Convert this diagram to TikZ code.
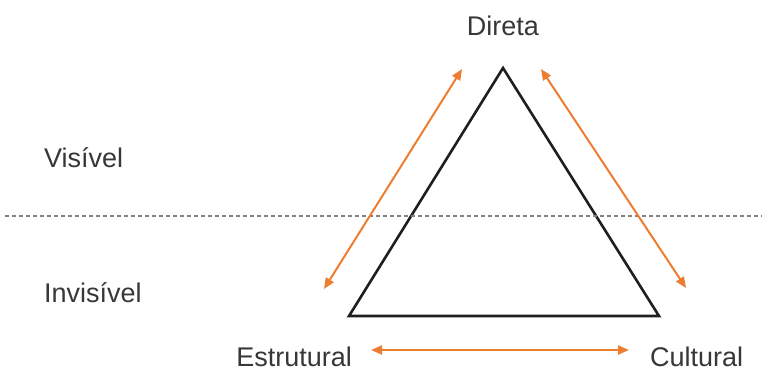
\documentclass[tikz,border=0pt]{standalone}
\usepackage{fontspec}
\setmainfont{Liberation Sans}
\usetikzlibrary{arrows.meta}
\definecolor{orng}{RGB}{237,125,49}
\definecolor{txt}{RGB}{55,55,55}
\tikzset{
  lbl/.style={text=txt,font=\fontsize{27}{31}\selectfont,inner sep=0pt},
  oarrow/.style={draw=orng,line width=2pt,{Triangle[length=11pt,width=9pt]}-{Triangle[length=11pt,width=9pt]}},
}
\begin{document}
\begin{tikzpicture}[x=1pt,y=-1pt]
\useasboundingbox (0,0) rectangle (762,372);
\coordinate (A) at (503,68);
\coordinate (B) at (349,316);
\coordinate (C) at (659,316);
\draw[line width=2.6pt,line join=miter,black!88] (A) -- (B) -- (C) -- cycle;
\coordinate (d1) at (5,216);
\coordinate (d2) at (762,216);
\draw[gray,line width=1.5pt,dash pattern=on 4pt off 3pt] (d1) -- (d2);
\coordinate (l1) at (324,289); \coordinate (l2) at (462,69);
\coordinate (r1) at (541,69); \coordinate (r2) at (686,288);
\coordinate (b1) at (371,350); \coordinate (b2) at (629,350);
\draw[oarrow] (l1) -- (l2);
\draw[oarrow] (r1) -- (r2);
\draw[oarrow] (b1) -- (b2);
\node[lbl] (dir) at (503,26) {Direta};
\node[lbl,anchor=west] (vis) at (44,158) {Visível};
\node[lbl,anchor=west] (inv) at (44,293) {Invisível};
\node[lbl,anchor=east] (est) at (352,357) {Estrutural};
\node[lbl,anchor=west] (cul) at (650,357) {Cultural};
\end{tikzpicture}
\end{document}
